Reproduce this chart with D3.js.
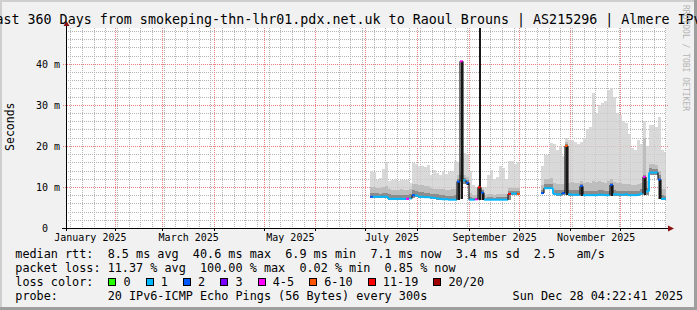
<!DOCTYPE html>
<html><head><meta charset="utf-8">
<script src="https://cdn.jsdelivr.net/npm/d3@7"></script>
<style>
html,body{margin:0;padding:0;background:#f1f1f1;}
svg{display:block;}
text{font-family:"DejaVu Sans Mono",monospace;white-space:pre;}
</style></head><body><svg id="c" width="697" height="310"></svg>
<script>
const title = "Last 360 Days from smokeping-thn-lhr01.pdx.net.uk to Raoul Brouns | AS215296 | Almere IPv6";
const windowStart = "2025-01-02T04:22:41Z";
const windowEnd = "2025-12-28T04:22:41Z";
const sampleStart = "2025-07-03T14:00:00Z";
const sampleHours = 43.2;
const N = null;
// median rtt (ms) per sample
const median = [
7.6,7.6,7.6,7.6,7.6,7.6,7.1,7.1,7.1,7.1,
7.1,7.1,7.1,7.2,8.0,7.9,7.6,7.6,7.5,7.5,
7.4,7.3,7.2,7.1,7.0,7.0,6.9,6.9,6.9,11.3,
40.6,11.6,11.0,6.9,6.9,7.0,9.9,8.6,6.9,6.9,
6.9,6.9,6.9,6.9,6.9,6.9,8.3,8.4,8.4,8.3,
N,N,N,N,N,N,N,8.5,9.7,9.7,
9.7,8.3,8.2,8.2,8.5,20.0,8.2,8.1,8.1,8.1,
10.2,8.0,8.0,8.0,8.0,8.0,8.1,8.1,8.0,8.0,
10.5,8.2,8.2,8.1,8.1,8.2,8.0,8.0,8.0,8.1,
8.4,12.4,8.9,13.5,13.5,13.5,11.8,7.1,7.1];
// loss colour class per sample (index into lossLabels)
const lossIdx = [
2,1,1,1,1,1,1,1,1,1,
1,1,4,1,2,1,1,1,1,1,
1,1,1,1,1,1,1,1,1,2,
4,1,2,1,1,4,6,2,1,1,
1,1,1,1,1,1,6,1,1,5,
N,N,N,N,N,N,N,2,1,1,
1,1,1,1,2,5,1,1,1,1,
2,1,1,1,1,1,1,1,1,1,
2,1,1,1,1,1,1,1,1,1,
1,4,1,1,1,1,2,1,1];
// smoke: lowest ping and band tops (ms)
const minRtt = [
7.3,7.3,7.3,7.3,7.3,7.3,6.9,6.9,6.9,6.9,
6.9,6.9,6.9,7.0,7.2,7.5,7.3,7.3,7.2,7.2,
7.1,7.0,6.9,6.8,6.8,6.8,6.7,6.7,6.7,6.8,
7.0,10.8,10.5,6.7,6.7,6.7,6.8,6.8,6.7,6.7,
6.7,6.7,6.7,6.7,6.7,6.7,6.8,8.1,8.1,8.0,
N,N,N,N,N,N,N,8.2,9.4,9.4,
9.4,8.0,7.9,7.9,8.0,8.0,7.9,7.8,7.8,7.8,
7.9,7.7,7.7,7.7,7.7,7.7,7.8,7.8,7.7,7.7,
7.8,7.9,7.9,7.8,7.8,7.9,7.7,7.7,7.7,7.8,
8.0,8.0,8.0,12.8,12.8,12.8,7.0,6.9,6.9];
const smokeTop = [
14.0,13.6,11.8,12.2,14.4,16.0,11.5,11.8,11.9,11.5,
11.7,11.6,11.8,11.0,15.8,15.6,15.0,15.2,14.8,15.4,
13.0,14.2,13.4,13.0,13.8,13.2,13.6,14.0,16.2,16.0,
17.4,18.3,18.0,14.0,10.5,10.0,10.5,10.0,10.0,12.9,
14.1,12.0,12.5,15.0,14.5,12.0,16.2,16.2,15.5,16.0,
N,N,N,N,N,N,N,15.0,17.8,17.8,
20.7,20.5,19.0,20.0,17.5,22.0,21.5,21.5,21.0,20.5,
21.0,22.0,24.0,24.5,33.0,28.0,30.0,30.5,31.0,33.5,
34.0,32.0,28.0,27.5,26.0,25.5,23.0,19.5,19.0,21.5,
20.5,26.0,20.0,25.0,25.0,24.5,27.0,19.0,18.5];
const smokeMid = [
10.0,10.0,9.8,9.8,10.0,10.2,9.5,9.3,9.3,9.2,
9.4,9.3,9.3,9.4,10.8,10.6,10.4,10.4,10.2,10.3,
9.8,9.6,9.5,9.4,9.4,9.3,9.2,9.4,9.6,13.0,
14.0,13.0,12.5,8.5,8.0,8.0,10.2,9.6,8.0,8.2,
8.2,8.0,8.2,8.4,8.3,8.2,9.8,9.8,9.7,9.7,
N,N,N,N,N,N,N,10.5,12.0,12.0,
12.2,11.0,10.8,10.8,10.6,21.0,11.0,11.2,11.0,11.0,
11.5,11.0,11.2,11.0,11.5,11.2,11.4,11.3,11.0,11.5,
12.0,11.3,11.0,11.0,10.8,10.8,10.6,10.4,10.5,10.6,
11.0,22.0,11.5,15.5,15.5,15.3,14.0,9.5,9.4];
const smokeDark = [
8.6,8.5,8.5,8.4,8.5,8.6,8.2,8.0,8.0,8.0,
8.1,8.0,8.0,8.2,9.2,9.0,8.8,8.8,8.6,8.6,
8.4,8.3,8.2,8.0,8.0,7.9,7.8,7.9,8.0,12.0,
13.0,12.2,11.8,7.6,7.4,7.4,10.0,9.2,7.4,7.5,
7.5,7.4,7.5,7.6,7.5,7.5,9.0,9.0,9.0,8.9,
N,N,N,N,N,N,N,9.2,10.6,10.6,
10.8,9.3,9.2,9.2,9.2,20.5,9.3,9.2,9.2,9.2,
10.6,9.0,9.1,9.0,9.1,9.1,9.2,9.2,9.1,9.1,
11.0,9.2,9.1,9.1,9.0,9.1,9.0,8.9,8.9,9.0,
9.4,13.0,9.8,14.5,14.4,14.3,12.8,8.0,7.9];
const smokeCore = [
N,N,N,N,N,N,N,N,N,N,
N,N,N,N,N,N,N,N,N,N,
N,N,N,N,N,N,N,N,N,11.3,
40.6,N,11.0,N,N,N,60,8.6,N,N,
N,N,N,N,N,N,N,N,N,N,
N,N,N,N,N,N,N,N,N,N,
N,N,N,N,N,20.0,N,N,N,N,
10.2,N,N,N,N,N,N,N,N,N,
10.5,N,N,N,N,N,N,N,N,N,
N,12.4,N,N,N,N,11.8,N,N];
const yMax = 48.72;
const yTicks = [0,10,20,30,40];
const xLabelMonths = ["2025-01","2025-03","2025-05","2025-07","2025-09","2025-11"];
const lossLabels = ["0","1","2","3","4-5","6-10","11-19","20/20"];
const lossColors = ["#26ff00","#00b8ff","#0059ff","#7e00ff","#ff00ff","#ff5500","#ff0000","#a00000"];
const statsRtt = ["8.5 ms avg","40.6 ms max","6.9 ms min","7.1 ms now","3.4 ms sd","2.5   am/s"];
const statsLoss = ["11.37 % avg","100.00 % max","0.02 % min","0.85 % now"];
const probeText = "20 IPv6-ICMP Echo Pings (56 Bytes) every 300s";
const stamp = "Sun Dec 28 04:22:41 2025";
const watermark = "RRDTOOL / TOBI OETIKER";

// ---------- layout ----------
const L = 66, R = 666, T = 28, B = 228;
const svg = d3.select("#c");
svg.append("rect").attr("width",697).attr("height",310).attr("fill","#f1f1f1");
svg.append("rect").attr("x",0).attr("y",0).attr("width",697).attr("height",2).attr("fill","#cfcfcf");
svg.append("rect").attr("x",0).attr("y",0).attr("width",2).attr("height",310).attr("fill","#cfcfcf");
svg.append("rect").attr("x",694).attr("y",0).attr("width",3).attr("height",310).attr("fill","#9e9e9e");
svg.append("rect").attr("x",0).attr("y",307).attr("width",697).attr("height",3).attr("fill","#9e9e9e");
svg.append("rect").attr("x",L).attr("y",T).attr("width",R-L).attr("height",B-T).attr("fill","#ffffff");

const x = d3.scaleUtc().domain([new Date(windowStart), new Date(windowEnd)]).range([L, R]);
const y = d3.scaleLinear().domain([0, yMax]).range([B, T]);

svg.append("defs").append("clipPath").attr("id","plot")
  .append("rect").attr("x",L).attr("y",T).attr("width",R-L).attr("height",B-T);

const t0 = Date.parse(sampleStart);
const tAt = k => new Date(t0 + k*sampleHours*3600e3);

// ---------- grid (under data) ----------
const gg = svg.append("g").attr("shape-rendering","crispEdges");
const start = new Date(windowStart), end = new Date(windowEnd);
const minorCol = "#b4b4b4", majorCol = "#ec8080";
d3.utcSunday.range(start, end).forEach(d => {
  const px = Math.floor(x(d)) + 0.5;
  gg.append("line").attr("x1",px).attr("x2",px).attr("y1",T).attr("y2",B)
    .attr("stroke",minorCol).attr("stroke-dasharray","1,1");
});
d3.range(2, yMax, 2).filter(v => v % 10 !== 0).forEach(v => {
  const py = Math.round(y(v)) + 0.5;
  gg.append("line").attr("x1",L).attr("x2",R).attr("y1",py).attr("y2",py)
    .attr("stroke",minorCol).attr("stroke-dasharray","1,1");
});
d3.utcMonth.range(start, end).forEach(d => {
  const px = Math.floor(x(d)) + 0.5;
  gg.append("line").attr("x1",px).attr("x2",px).attr("y1",T).attr("y2",B)
    .attr("stroke",majorCol).attr("stroke-dasharray","1,1");
  gg.append("line").attr("x1",px).attr("x2",px).attr("y1",B).attr("y2",B+3)
    .attr("stroke","#000");
});
yTicks.filter(v => v > 0).forEach(v => {
  const py = Math.round(y(v)) + 0.5;
  gg.append("line").attr("x1",L-3).attr("x2",R+2).attr("y1",py).attr("y2",py)
    .attr("stroke",majorCol).attr("stroke-dasharray","1,1");
});

// ---------- smoke ----------
const gs = svg.append("g").attr("clip-path","url(#plot)").attr("shape-rendering","crispEdges");
const bands = [[smokeTop,"#cfcfcf",0.8,false],[smokeMid,"#bdbdbd",1,false],[smokeDark,"#8c8c8c",1,false],[smokeCore,"#161616",1,true]];
bands.forEach(([arr,col,op,thin]) => {
  gs.selectAll(null).data(d3.range(median.length).filter(k => median[k]!=null && arr[k]!=null))
    .enter().append("rect")
    .attr("x", k => thin ? x(tAt(k)) + 0.5 : x(tAt(k)))
    .attr("width", k => thin ? 2 : x(tAt(k+1)) - x(tAt(k)))
    .attr("y", k => y(Math.min(arr[k], yMax+2)))
    .attr("height", k => y(minRtt[k]) - y(Math.min(arr[k], yMax+2)))
    .attr("fill", col).attr("fill-opacity", op);
});

// ---------- median line ----------
const gm = svg.append("g").attr("clip-path","url(#plot)");
for (let k = 0; k < median.length; k++) {
  if (median[k] == null) continue;
  const x1 = x(tAt(k)), x2 = x(tAt(k+1));
  gm.append("line").attr("x1",x1).attr("x2",x2)
    .attr("y1",y(median[k])).attr("y2",y(median[k]))
    .attr("stroke",lossColors[lossIdx[k]]).attr("stroke-width",2);
  if (k+1 < median.length && median[k+1] != null) {
    const same = lossIdx[k] === lossIdx[k+1];
    gm.append("line").attr("x1",x2).attr("x2",x2)
      .attr("y1",y(median[k])).attr("y2",y(median[k+1]))
      .attr("stroke", same ? lossColors[lossIdx[k]] : "#1a1a1a")
      .attr("stroke-width", same ? 2 : 1.2);
  }
}

// ---------- axes ----------
const labelDates = xLabelMonths.map(m => {
  const a = new Date(m + "-01T00:00:00Z");
  const b = d3.utcMonth.offset(a, 1);
  return new Date((a.getTime() + b.getTime())/2);
});
const gx = svg.append("g").attr("transform",`translate(0,${B})`)
  .call(d3.axisBottom(x).tickValues(labelDates).tickFormat(d3.utcFormat("%B %Y")).tickSize(0));
gx.select(".domain").remove();
gx.selectAll("text").attr("y",12.8).attr("dy",0)
  .attr("font-family","DejaVu Sans Mono").attr("font-size","10px").attr("fill","#000");

const gy = svg.append("g").attr("transform",`translate(${L},0)`)
  .call(d3.axisLeft(y).tickValues(yTicks).tickSize(0).tickPadding(6)
    .tickFormat(v => v === 0 ? "0  " : v + " m"));
gy.select(".domain").remove();
gy.selectAll("text").attr("dy","0.36em")
  .attr("font-family","DejaVu Sans Mono").attr("font-size","10px").attr("fill","#000");

// axis lines + arrows
svg.append("line").attr("x1",62).attr("x2",669).attr("y1",B+0.5).attr("y2",B+0.5)
  .attr("stroke","#000").attr("shape-rendering","crispEdges");
svg.append("line").attr("x1",L+0.5).attr("x2",L+0.5).attr("y1",B+3).attr("y2",25)
  .attr("stroke","#000").attr("shape-rendering","crispEdges");
svg.append("path").attr("d",`M668,${B-2.5}L674,${B+0.5}L668,${B+3.5}Z`).attr("fill","#8b1010");
svg.append("path").attr("d",`M${L-2.5},26L${L+0.5},21L${L+3.5},26Z`).attr("fill","#8b1010");

// ---------- texts ----------
svg.append("text").attr("x",348.5).attr("y",23.5).attr("text-anchor","middle")
  .attr("font-size","13.33px").attr("fill","#000").text(title);
svg.append("text").attr("transform","translate(14,126.7) rotate(-90)").attr("text-anchor","middle")
  .attr("font-size","11.5px").attr("fill","#000").text("Seconds");
svg.append("text").attr("transform","translate(683,5) rotate(90)")
  .attr("font-size","8px").attr("fill","#b4b4b4").text(watermark);

const fs = "11.8px", cw = 7.1;
const lg = svg.append("g").attr("font-size",fs).attr("fill","#000");
const row1 = 258.3, row2 = 272, row3 = 285.8, row4 = 299.5;
lg.append("text").attr("x",15.3).attr("y",row1).text("median rtt:  " + statsRtt.join("  "));
lg.append("text").attr("x",15.3).attr("y",row2).text("packet loss: " + statsLoss.join("  "));
lg.append("text").attr("x",15.3).attr("y",row3).text("loss color:");
let bx = 108.3;
lossLabels.forEach((lab,i) => {
  svg.append("rect").attr("x",Math.round(bx)+0.5).attr("y",278.5).attr("width",7).attr("height",7)
    .attr("fill",lossColors[i]).attr("stroke","#000").attr("shape-rendering","crispEdges");
  lg.append("text").attr("x",bx+15.2).attr("y",row3).text(lab);
  bx += 16 + lab.length*cw + 2*cw;
});
lg.append("text").attr("x",15.3).attr("y",row4).text("probe:       " + probeText);
lg.append("text").attr("x",512.6).attr("y",row4).text(stamp);
</script></body></html>
